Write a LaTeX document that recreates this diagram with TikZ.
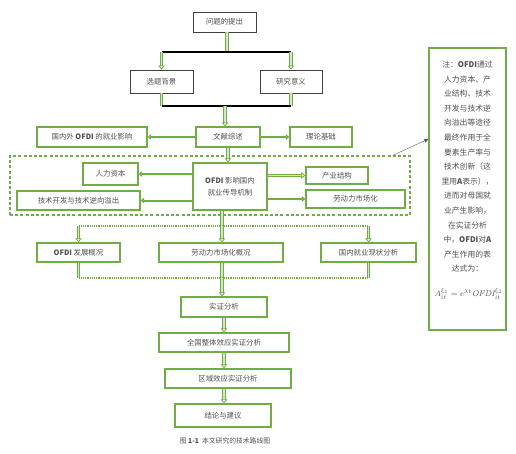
\documentclass[tikz,border=0pt]{standalone}
\usepackage{amsmath}
\usepackage{xcolor}
\usepackage{fontspec}
\newfontfamily\cjk{Noto Sans CJK SC}
\usetikzlibrary{positioning, arrows.meta, calc}
\definecolor{grn}{HTML}{70AD47}
\definecolor{txt}{HTML}{505050}
\tikzset{
  box/.style={rectangle, draw=grn, line width=1.3pt, fill=white, align=center,
              inner sep=1pt, text=txt, font=\cjk\fontsize{7.4}{12}\selectfont},
  topbox/.style={box, draw=black!75, line width=0.8pt},
  grp/.style={rectangle, draw=grn, line width=1.2pt, dash pattern=on 3pt off 2.2pt},
  arr/.style={draw=grn, line width=2pt, -{Triangle[length=3.5pt, width=5.5pt]}},
  darr/.style={draw=grn, line width=0.8pt, double=grn!30, double distance=1.6pt,
               -{Triangle[open, length=4pt, width=6.5pt]}},
  bline/.style={draw=black, line width=1.4pt},
  gline/.style={draw=grn, line width=1.2pt, densely dotted},
}

\begin{document}
\begin{tikzpicture}[x=1pt, y=-1pt]
  \useasboundingbox (0,0) rectangle (516,453);

  % top part
  \node[topbox, minimum width=63pt, minimum height=20pt] (q) at (224.5,22) {问题的提出};
  \node[topbox, minimum width=63pt, minimum height=23pt] (bg) at (161.5,81.5) {选题背景};
  \node[topbox, minimum width=62pt, minimum height=23pt] (yy) at (291,81.5) {研究意义};
  \coordinate (t1) at (227,52);
  \coordinate (t2) at (225,106);
  \draw[darr, -] (q.south -| t1) -- (t1);
  \draw[bline] (bg.north |- t1) -- (yy.north |- t1);
  \draw[darr] (bg.north |- t1) -- (bg.north);
  \draw[darr] (yy.north |- t1) -- (yy.north);
  \draw[darr, -] (bg.south) -- (bg.south |- t2);
  \draw[darr, -] (yy.south) -- (yy.south |- t2);
  \draw[bline] (bg.south |- t2) -- (yy.south |- t2);

  % literature
  \node[box, minimum width=64pt, minimum height=20pt] (ws) at (228,137) {文献综述};
  \node[box, minimum width=110pt, minimum height=20pt] (gn) at (92,137) {国内外 \textbf{OFDI} 的就业影响};
  \node[box, minimum width=62pt, minimum height=20pt] (ll) at (321,137) {理论基础};
  \draw[darr] (t2) -- (t2 |- ws.north);
  \draw[arr] (ws) -- (gn);
  \draw[arr] (ws) -- (ll);

  % mechanism
  \node[grp, minimum width=400pt, minimum height=59pt] (mech) at (210,185.5) {};
  \node[box, minimum width=74pt, minimum height=47pt] (jz) at (230,186.5) {\textbf{OFDI} 影响国内\\就业传导机制};
  \node[box, minimum width=55pt, minimum height=22pt] (rl) at (110.5,174) {人力资本};
  \node[box, minimum width=123pt, minimum height=19pt] (js) at (78.5,200.5) {技术开发与技术逆向溢出};
  \node[box, minimum width=62pt, minimum height=17pt] (cy) at (337,175.5) {产业结构};
  \node[box, minimum width=99pt, minimum height=18pt] (ld) at (355.5,199) {劳动力市场化};
  \draw[arr] (jz.west |- rl) -- (rl);
  \draw[arr] (jz.west |- js) -- (js);
  \draw[darr] (jz.east |- cy) -- (cy);
  \draw[arr] (jz.east |- ld) -- (ld);
  \draw[darr] (ws) -- (ws |- jz.north);

  % note
  \node[box, text width=66pt, minimum width=77pt, minimum height=282pt,
        font=\cjk\fontsize{7.8}{14.6}\selectfont] (note) at (467.5,189)
    {注：\textbf{OFDI}通过\\人力资本、产\\业结构、技术\\开发与技术逆\\向溢出等途径\\最终作用于全\\要素生产率与\\技术创新（这\\里用\textbf{A}表示），\\进而对母国就\\业产生影响，\\在实证分析\\中，\textbf{OFDI}对\textbf{A}\\产生作用的表\\达式为：\\[10pt]
     \mbox{\fontsize{8.4}{10}\selectfont$A_{it}^{\xi_1}=e^{\lambda t}\mathit{OFDI}_{it}^{\xi_2}$}\\[6pt]\mbox{}};
  \coordinate (nt) at (note.west |- 0,139);
  \draw[-{Triangle[length=4pt, width=4pt]}, black!65, thin] ($(mech.north east)+(-18,0)$) -- (nt);

  % status
  \node[box, minimum width=83pt, minimum height=19pt] (fz) at (78.5,252.5) {\textbf{OFDI} 发展概况};
  \node[box, minimum width=124pt, minimum height=19pt] (sc) at (221,252.5) {劳动力市场化概况};
  \node[box, minimum width=95pt, minimum height=19pt] (xz) at (368.5,252.5) {国内就业现状分析};
  \coordinate (t3) at (222,226);
  \coordinate (t4) at (222,278);
  \draw[darr, -] (jz.south -| t3) -- (t3);
  \draw[gline] (fz.north |- t3) -- (xz.north |- t3);
  \draw[darr] (fz.north |- t3) -- (fz.north);
  \draw[darr] (t3) -- (t3 |- sc.north);
  \draw[darr] (xz.north |- t3) -- (xz.north);
  \draw[darr, -] (fz.south) -- (fz.south |- t4);
  \draw[darr, -] (t3 |- sc.south) -- (t4);
  \draw[darr, -] (xz.south) -- (xz.south |- t4);
  \draw[gline] (fz.south |- t4) -- (xz.south |- t4);

  % empirical
  \node[box, minimum width=86pt, minimum height=20pt] (sz) at (224,307) {实证分析};
  \node[box, minimum width=130pt, minimum height=19pt] (qg) at (224,342.5) {全国整体效应实证分析};
  \node[box, minimum width=126pt, minimum height=19pt] (qy) at (228,378.5) {区域效应实证分析};
  \node[box, minimum width=96pt, minimum height=23pt] (jl) at (223,415.5) {结论与建议};
  \draw[darr] (t4) -- (t4 |- sz.north);
  \draw[darr] (sz) -- (sz |- qg.north);
  \draw[darr] (sz |- qg.south) -- (sz |- qy.north);
  \draw[darr] (sz |- qy.south) -- (sz |- jl.north);

  \node[text=txt, font=\cjk\fontsize{6.8}{8}\selectfont] (cap) at (225,441) {图 \textbf{1-1}\ \ 本文研究的技术路线图};
\end{tikzpicture}
\end{document}
